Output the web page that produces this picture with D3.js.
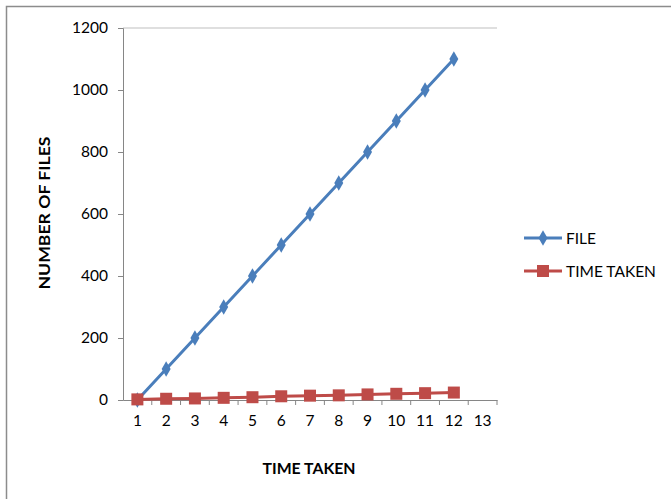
<!DOCTYPE html>
<html>
<head>
<meta charset="utf-8">
<script src="https://cdn.jsdelivr.net/npm/d3@7"></script>
<style>
  html, body { margin: 0; padding: 0; background: #fff; }
  svg text { font-family: Lato, "Open Sans", "Liberation Sans", sans-serif; }
</style>
</head>
<body>
<svg id="chart" width="671" height="499"></svg>
<script>
// Category labels along the x axis
const categories = ["1","2","3","4","5","6","7","8","9","10","11","12","13"];
// Series values (one per category; the last category has no data)
const fileValues = [0, 100, 200, 300, 400, 500, 600, 700, 800, 900, 1000, 1100];
const timeValues = [2, 4, 5, 7, 9, 12, 14, 15, 18, 20, 22, 24];
// Y axis ticks
const yTicks = [0, 200, 400, 600, 800, 1000, 1200];

const series = [
  { name: "FILE", values: fileValues, color: "#4A7EBB", marker: "diamond" },
  { name: "TIME TAKEN", values: timeValues, color: "#BE4B48", marker: "square" }
];

const svg = d3.select("#chart");
const W = 671, H = 499;

// Outer chart frame (only left and top edges visible)
svg.append("path")
  .attr("d", `M6.5,${H} L6.5,6.5 L${W},6.5`)
  .attr("fill", "none")
  .attr("stroke", "#8c8c8c")
  .attr("stroke-width", 1.5);

const plot = { left: 123, right: 497, top: 28, bottom: 400 };

const x = d3.scaleBand().domain(categories).range([plot.left, plot.right]);
const y = d3.scaleLinear().domain([0, 1200]).range([plot.bottom, plot.top]);

const axisColor = "#868686";
const labelSize = 15.5;

// Top gridline at the max value
svg.append("line")
  .attr("x1", plot.left).attr("x2", plot.right)
  .attr("y1", y(1200)).attr("y2", y(1200))
  .attr("stroke", "#bfbfbf").attr("stroke-width", 1);

// Y axis
const yAxis = svg.append("g")
  .attr("transform", `translate(${plot.left},0)`)
  .call(d3.axisLeft(y).tickValues(yTicks).tickFormat(d3.format("d")).tickSize(5).tickPadding(10));
yAxis.select(".domain").attr("stroke", axisColor);
yAxis.selectAll(".tick line").attr("stroke", axisColor);
yAxis.selectAll("text").attr("font-size", labelSize).attr("fill", "#000");

// X axis with ticks at category boundaries
const xAxis = svg.append("g")
  .attr("transform", `translate(0,${plot.bottom})`)
  .call(d3.axisBottom(x).tickSize(0).tickPadding(15));
xAxis.select(".domain").attr("stroke", axisColor);
xAxis.selectAll("text").attr("font-size", labelSize).attr("fill", "#000");
xAxis.selectAll(".boundary")
  .data(categories.map(c => x(c)).concat([plot.right]).slice(1))
  .enter().append("line")
  .attr("x1", d => d).attr("x2", d => d)
  .attr("y1", 0).attr("y2", 5)
  .attr("stroke", axisColor);

// Axis titles
svg.append("text")
  .attr("x", 309)
  .attr("y", 474)
  .attr("text-anchor", "middle")
  .attr("font-size", 16).attr("font-weight", "bold")
  .attr("textLength", 93).attr("lengthAdjust", "spacingAndGlyphs")
  .text("TIME TAKEN");

svg.append("text")
  .attr("transform", "translate(50,213) rotate(-90)")
  .attr("text-anchor", "middle")
  .attr("font-size", 16).attr("font-weight", "bold")
  .attr("textLength", 153).attr("lengthAdjust", "spacingAndGlyphs")
  .text("NUMBER OF FILES");

const cx = i => x(categories[i]) + x.bandwidth() / 2;

function drawMarker(g, kind, color) {
  if (kind === "diamond") {
    g.append("path").attr("d", d3.symbol(d3.symbolDiamond, 70)())
      .attr("fill", color);
  } else {
    g.append("rect").attr("x", -6).attr("y", -6).attr("width", 12).attr("height", 12)
      .attr("fill", color);
  }
}

// Lines and markers
const line = d3.line().x((d, i) => cx(i)).y(d => y(d));
series.forEach(s => {
  svg.append("path")
    .datum(s.values)
    .attr("d", line)
    .attr("fill", "none")
    .attr("stroke", s.color)
    .attr("stroke-width", 3);
  s.values.forEach((v, i) => {
    const g = svg.append("g").attr("transform", `translate(${cx(i)},${y(v)})`);
    drawMarker(g, s.marker, s.color);
  });
});

// Legend
const legend = svg.append("g");
series.forEach((s, i) => {
  const ly = 238 + i * 33;
  legend.append("line")
    .attr("x1", 524).attr("x2", 562)
    .attr("y1", ly).attr("y2", ly)
    .attr("stroke", s.color).attr("stroke-width", 3);
  const g = legend.append("g").attr("transform", `translate(543,${ly})`);
  drawMarker(g, s.marker, s.color);
  legend.append("text")
    .attr("x", 566).attr("y", ly + 6)
    .attr("font-size", labelSize)
    .text(s.name);
});
</script>
</body>
</html>
